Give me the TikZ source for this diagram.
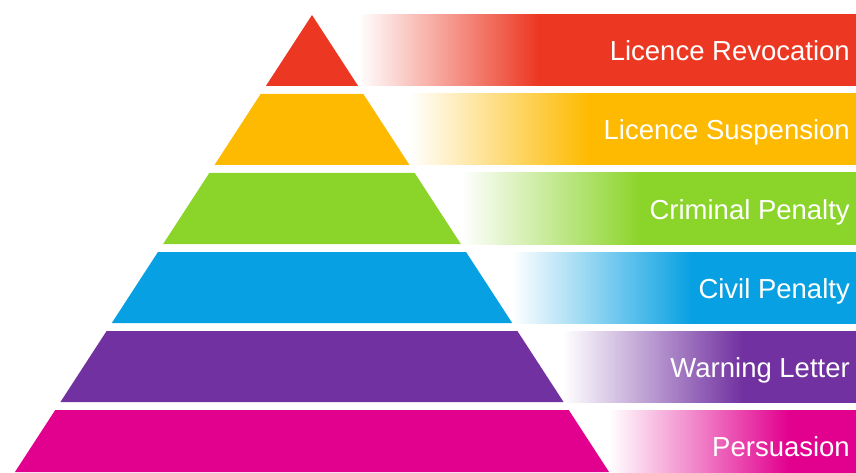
\documentclass[tikz,border=0pt]{standalone}
\usepackage{fontspec}
\setmainfont{Liberation Sans}
\definecolor{revred}{HTML}{EC3823}
\definecolor{susyellow}{HTML}{FDBA00}
\definecolor{crimgreen}{HTML}{8BD42A}
\definecolor{civblue}{HTML}{07A0E2}
\definecolor{warnpurple}{HTML}{7131A0}
\definecolor{perspink}{HTML}{E2008F}
\colorlet{barcolor}{black}
\pgfdeclarehorizontalshading[barcolor]{barramp}{100bp}{color(0bp)=(white);
  color(25bp)=(white); color(43bp)=(barcolor); color(100bp)=(barcolor)}
\tikzset{
  ramp/.style={/utils/exec={\colorlet{barcolor}{#1}}, shading=barramp, draw=none},
  tiertext/.style={anchor=base east, text=white, inner sep=0pt,
    font=\fontsize{27.5}{30}\selectfont}
}

\begin{document}
\begin{tikzpicture}[x=1pt,y=1pt]
            \useasboundingbox (0,0) rectangle (856,472);
            % fading bars behind the tiers
            \shade[ramp=revred] (358,457) rectangle (858,386);
            \shade[ramp=susyellow] (409,378) rectangle (909,307);
            \shade[ramp=crimgreen] (461,299) rectangle (961,228);
            \shade[ramp=civblue] (512,220) rectangle (1012,149);
            \shade[ramp=warnpurple] (563,141) rectangle (1063,70);
            \shade[ramp=perspink] (609,62) rectangle (1109,0);
            % pyramid tiers
            \fill[revred] (312,457) -- (358.15,386) -- (265.85,386) -- cycle;
            \fill[susyellow] (260.65,378) -- (363.35,378) -- (409.5,307) -- (214.5,307) -- cycle;
            \fill[crimgreen] (209.3,299) -- (414.7,299) -- (460.85,228) -- (163.15,228) -- cycle;
            \fill[civblue] (157.95,220) -- (466.05,220) -- (512.2,149) -- (111.8,149) -- cycle;
            \fill[warnpurple] (106.6,141) -- (517.4,141) -- (563.55,70) -- (60.45,70) -- cycle;
            \fill[perspink] (55.25,62) -- (568.75,62) -- (609.05,0) -- (14.95,0) -- cycle;
            % labels
            \node[tiertext] (revocation) at (850,411) {Licence Revocation};
            \node[tiertext] (suspension) at (850,332) {Licence Suspension};
            \node[tiertext] (criminal) at (850,253) {Criminal Penalty};
            \node[tiertext] (civil) at (850,174) {Civil Penalty};
            \node[tiertext] (warning) at (850,95) {Warning Letter};
            \node[tiertext] (persuasion) at (850,16) {Persuasion};
        \end{tikzpicture}
\end{document}
